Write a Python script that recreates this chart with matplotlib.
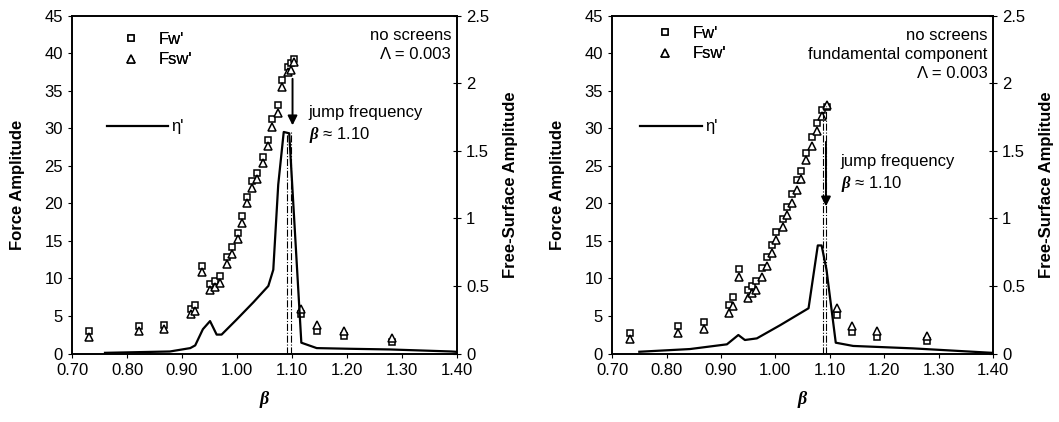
import numpy as np
import matplotlib
matplotlib.use('Agg')
from matplotlib import pyplot as plt
from matplotlib.lines import Line2D

plt.rcParams['font.family'] = ['Liberation Sans', 'DejaVu Sans']
plt.rcParams['mathtext.fontset'] = 'custom'
plt.rcParams['mathtext.it'] = 'Liberation Serif:italic:bold'

# panel a: all components
beta_a = [0.731, 0.822, 0.868, 0.916, 0.924, 0.936, 0.951, 0.960, 0.970, 0.982, 0.991,
          1.001, 1.010, 1.019, 1.028, 1.036, 1.047, 1.057, 1.064, 1.075, 1.081, 1.092,
          1.098, 1.104, 1.117, 1.146, 1.194, 1.281]
fw_a = [3.0, 3.6, 3.8, 5.9, 6.5, 11.6, 9.3, 9.7, 10.3, 12.9, 14.2, 16.1, 18.3, 20.9,
        23.0, 24.1, 26.2, 28.5, 31.2, 33.1, 36.5, 38.2, 38.7, 39.3, 5.3, 3.0, 2.3, 1.6]
fsw_a = [2.2, 3.0, 3.2, 5.2, 5.7, 10.8, 8.4, 8.8, 9.4, 11.9, 13.2, 15.2, 17.4, 20.0,
         22.1, 23.2, 25.4, 27.6, 30.2, 32.1, 35.5, 37.5, 37.8, 38.9, 5.9, 3.8, 3.0, 2.1]
eta_beta_a = [0.76, 0.878, 0.915, 0.924, 0.938, 0.951, 0.963, 0.972, 0.999, 1.03, 1.057,
              1.066, 1.075, 1.085, 1.095, 1.117, 1.145, 1.205, 1.278, 1.39, 1.40]
eta_a = [0.005, 0.015, 0.04, 0.06, 0.18, 0.24, 0.14, 0.14, 0.25, 0.38, 0.50,
         0.62, 1.25, 1.64, 1.63, 0.08, 0.04, 0.035, 0.03, 0.015, 0.012]

# panel b: fundamental component
beta_b = [0.732, 0.821, 0.868, 0.914, 0.922, 0.934, 0.949, 0.957, 0.965, 0.976, 0.984,
          0.993, 1.002, 1.014, 1.021, 1.030, 1.039, 1.047, 1.057, 1.067, 1.076, 1.085,
          1.094, 1.113, 1.140, 1.186, 1.278]
fw_b = [2.7, 3.6, 4.2, 6.5, 7.5, 11.2, 8.5, 9.0, 9.6, 11.4, 12.8, 14.4, 16.2, 17.9,
        19.5, 21.3, 23.1, 24.3, 26.7, 28.8, 30.7, 32.5, 32.9, 5.1, 2.9, 2.2, 1.7]
fsw_b = [1.9, 2.7, 3.2, 5.4, 6.3, 10.2, 7.4, 8.0, 8.4, 10.2, 11.7, 13.4, 15.1, 16.9,
         18.5, 20.1, 21.8, 23.3, 25.8, 27.6, 29.6, 31.7, 33.1, 6.0, 3.6, 3.0, 2.3]
eta_beta_b = [0.75, 0.843, 0.911, 0.932, 0.944, 0.966, 1.009, 1.061, 1.078, 1.085, 1.094,
              1.111, 1.143, 1.253, 1.394, 1.40]
eta_b = [0.013, 0.033, 0.068, 0.137, 0.10, 0.112, 0.21, 0.335, 0.80, 0.80, 0.62,
         0.08, 0.056, 0.038, 0.006, 0.005]

jump_a = [1.0915, 1.0976]
jump_b = [1.088, 1.093]

xticks = [0.70, 0.80, 0.90, 1.00, 1.10, 1.20, 1.30, 1.40]
fs = 12


def panel(ax, beta, fw, fsw, eb, eta, jumps, jump_top, arrow_x, arrow_y, notes,
          jump_xy, leg_sq, leg_line):
    ax2 = ax.twinx()
    ax.plot(beta, fw, ls='none', marker='s', ms=5, mfc='white', mec='black', mew=1.1,
            zorder=5)
    ax.plot(beta, fsw, ls='none', marker='^', ms=6, mfc='white', mec='black', mew=1.1,
            zorder=5)
    ax2.plot(eb, eta, color='black', lw=1.6)
    for j in jumps:
        ax2.plot([j, j], [0, jump_top], color='black', lw=0.8, ls='-.')
    ax.annotate('', xy=(arrow_x, arrow_y[1]), xytext=(arrow_x, arrow_y[0]),
                arrowprops=dict(arrowstyle='-|>', color='black', lw=1.4,
                                mutation_scale=14, shrinkA=0, shrinkB=0))

    ax.set_xlim(0.70, 1.40)
    ax.set_ylim(0, 45)
    ax2.set_ylim(0, 2.5)
    ax.set_xticks(xticks)
    ax.set_xticklabels(['%.2f' % x for x in xticks])
    ax.set_yticks(range(0, 50, 5))
    ax2.set_yticks([0, 0.5, 1, 1.5, 2, 2.5])
    ax2.set_yticklabels(['0', '0.5', '1', '1.5', '2', '2.5'])
    ax.tick_params(axis='both', labelsize=fs, direction='out', length=3, width=0.8)
    ax2.tick_params(axis='y', labelsize=fs, direction='inout', length=6, width=0.8)
    for sp in list(ax.spines.values()) + list(ax2.spines.values()):
        sp.set_linewidth(1.2)

    ax.set_xlabel(r'$\beta$', fontsize=fs + 1, labelpad=8)
    ax.set_ylabel('Force Amplitude', fontsize=fs, fontweight='bold', labelpad=14)
    ax2.set_ylabel('Free-Surface Amplitude', fontsize=fs, fontweight='bold', labelpad=10)

    ax.text(0.985, 0.965, notes, transform=ax.transAxes, ha='right', va='top',
            fontsize=fs, linespacing=1.35)
    ax.text(jump_xy[0], jump_xy[1], 'jump frequency\n' + r'$\beta$ ≈ 1.10',
            transform=ax.transAxes, ha='left', va='top', fontsize=fs, linespacing=1.35)

    h1 = [Line2D([], [], ls='none', marker='s', ms=5, mfc='white', mec='black', mew=1.1),
          Line2D([], [], ls='none', marker='^', ms=6, mfc='white', mec='black', mew=1.1)]
    lg = ax.legend(h1, ["Fw'", "Fsw'"], loc='center left', bbox_to_anchor=leg_sq,
                   frameon=False, fontsize=fs, handlelength=1.5, handletextpad=0.9,
                   labelspacing=0.35, borderpad=0)
    ax.add_artist(lg)
    h2 = [Line2D([], [], color='black', lw=1.6)]
    ax2.legend(h2, ["η'"], loc='center left', bbox_to_anchor=leg_line, frameon=False,
               fontsize=fs, handlelength=3.7, handletextpad=0.2, borderpad=0)
    return ax2


fig = plt.figure(figsize=(10.59, 4.22), dpi=100)
axa = fig.add_axes([0.068, 0.1623, 0.3635, 0.8003])
axb = fig.add_axes([0.578, 0.1623, 0.3597, 0.8003])

panel(axa, beta_a, fw_a, fsw_a, eta_beta_a, eta_a, jump_a, 1.64, 1.101, (36.6, 30.4),
      'no screens\nΛ = 0.003', (0.615, 0.735), (0.10, 0.9), (0.068, 0.671))
panel(axb, beta_b, fw_b, fsw_b, eta_beta_b, eta_b, jump_b, 1.83, 1.093, (28.2, 19.6),
      'no screens\nfundamental component\nΛ = 0.003', (0.60, 0.59), (0.085, 0.918),
      (0.052, 0.671))

fig.savefig('out.png', dpi=100)
